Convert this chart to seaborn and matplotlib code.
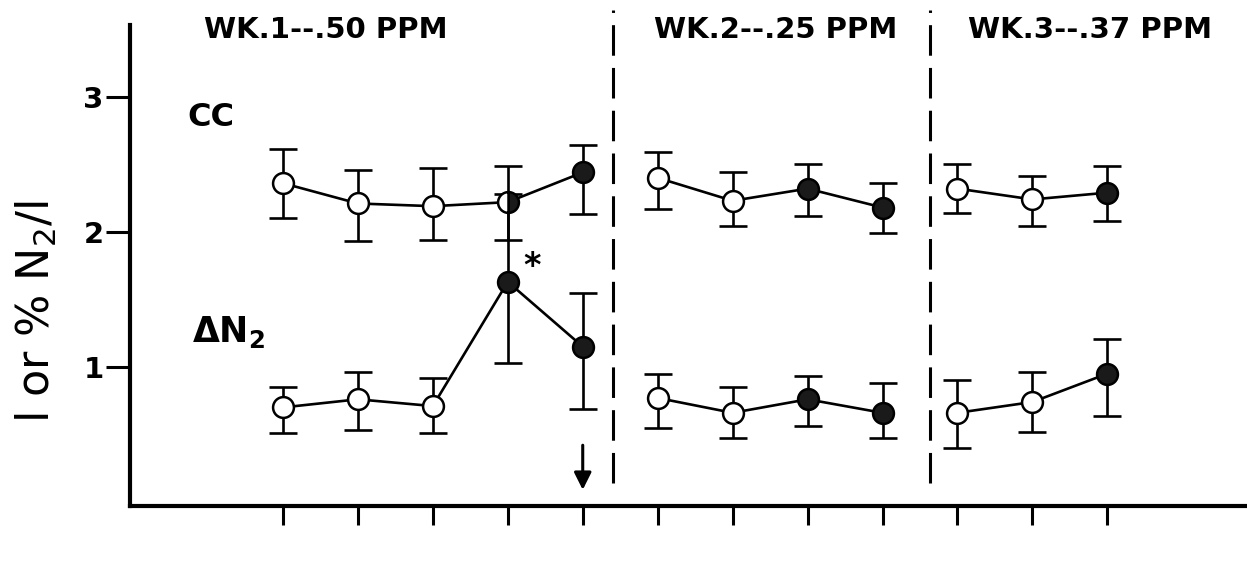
import numpy as np
import pandas as pd
import matplotlib
matplotlib.use("Agg")
import matplotlib.pyplot as plt
import seaborn as sns

# ---- data ----
x_pos = [1, 2, 3, 4, 5, 6, 7, 8, 9, 10, 11, 12]
week = [1, 1, 1, 1, 1, 2, 2, 2, 2, 3, 3, 3]
cc_mean = [2.36, 2.21, 2.19, 2.22, 2.44, 2.40, 2.23, 2.32, 2.18, 2.32, 2.24, 2.29]
cc_lo = [2.10, 1.93, 1.94, 1.94, 2.13, 2.17, 2.04, 2.12, 1.99, 2.14, 2.04, 2.08]
cc_hi = [2.61, 2.46, 2.47, 2.49, 2.64, 2.59, 2.44, 2.50, 2.36, 2.50, 2.41, 2.49]
dn_mean = [0.70, 0.76, 0.71, 1.63, 1.15, 0.77, 0.66, 0.76, 0.66, 0.66, 0.74, 0.95]
dn_lo = [0.51, 0.53, 0.51, 1.03, 0.69, 0.55, 0.47, 0.56, 0.47, 0.40, 0.52, 0.64]
dn_hi = [0.85, 0.96, 0.92, 2.28, 1.55, 0.95, 0.85, 0.93, 0.88, 0.90, 0.96, 1.21]
cc_fill = ["open", "open", "open", "half", "filled", "open", "open", "filled", "filled", "open", "open", "filled"]
dn_fill = ["open", "open", "open", "filled", "filled", "open", "open", "filled", "filled", "open", "open", "filled"]
week_titles = ["WK.1--.50 PPM", "WK.2--.25 PPM", "WK.3--.37 PPM"]
week_breaks = [5.4, 9.63]
y_ticks = [1, 2, 3]
series_labels = ["CC", r"ΔN$_\mathbf{2}$"]
y_label = r"l or % N$_2$/l"

# ---- figure ----
sns.set_style("ticks")
plt.rcParams["font.family"] = ["DejaVu Sans"]
plt.rcParams["mathtext.fontset"] = "dejavusans"
for k in ("text.color", "axes.labelcolor", "xtick.color", "ytick.color", "axes.edgecolor"):
    plt.rcParams[k] = "black"

fig = plt.figure(figsize=(12.47, 5.86), dpi=100)
ax = fig.add_axes([0.1043, 0.1365, 0.8937, 0.8205])

rows = []
for name, m in (("CC", cc_mean), ("DN", dn_mean)):
    for xi, wk, v in zip(x_pos, week, m):
        rows.append({"x": xi, "y": v, "unit": f"{name}-{wk}"})
df = pd.DataFrame(rows)
sns.lineplot(data=df, x="x", y="y", units="unit", estimator=None,
             color="black", lw=1.9, ax=ax, legend=False, zorder=2)

DARK = "#1a1a1a"
for m, lo, hi, fills in ((cc_mean, cc_lo, cc_hi, cc_fill), (dn_mean, dn_lo, dn_hi, dn_fill)):
    m = np.array(m); lo = np.array(lo); hi = np.array(hi)
    ax.errorbar(x_pos, m, yerr=[m - lo, hi - m], fmt="none", ecolor="black",
                elinewidth=1.9, capsize=10, capthick=1.9, zorder=3)
    for xi, v, f in zip(x_pos, m, fills):
        if f == "open":
            ax.plot(xi, v, "o", ms=15, mfc="white", mec="black", mew=1.8, zorder=4)
        elif f == "filled":
            ax.plot(xi, v, "o", ms=15, mfc=DARK, mec="black", mew=1.8, zorder=4)
        else:
            ax.plot(xi, v, "o", ms=15, fillstyle="right", mfc=DARK,
                    markerfacecoloralt="white", mec="black", mew=1.8, zorder=4)

# week separators
for xb in week_breaks:
    ax.plot([xb, xb], [0.14, 3.64], color="black", lw=2.2,
            dashes=(10, 4), clip_on=False, zorder=1)

ax.set_xlim(-1.04, 13.83)
ax.set_ylim(-0.03, 3.53)
ax.set_xticks(x_pos)
ax.set_xticklabels([])
ax.set_yticks(y_ticks)
ax.set_yticklabels([str(t) for t in y_ticks], fontsize=21, fontweight="bold")
ax.tick_params(axis="y", length=17, width=2.2, pad=2, direction="out", colors="black")
ax.tick_params(axis="x", length=14, width=2.2, direction="out", colors="black")
for side in ("top", "right"):
    ax.spines[side].set_visible(False)
for side in ("left", "bottom"):
    ax.spines[side].set_linewidth(3)
    ax.spines[side].set_color("black")
ax.set_xlabel("")
ax.set_ylabel("")

# week titles
title_x = [326, 776, 1090]
for tx, t in zip(title_x, week_titles):
    fig.text(tx / 1247, 1 - 30 / 586, t, ha="center", va="center",
             fontsize=21, fontweight="bold", color="black")

# series labels
ax.text(-0.27, 2.78, series_labels[0], fontsize=23, fontweight="bold",
        ha="left", va="baseline", color="black")
ax.text(-0.21, 1.185, series_labels[1], fontsize=25, fontweight="bold",
        ha="left", va="baseline", color="black")

# asterisk and arrow
ax.text(4.33, 1.74, "*", fontsize=24, fontweight="bold", ha="center", va="center",
        color="black")
ax.annotate("", xy=(5, 0.09), xytext=(5, 0.42),
            arrowprops=dict(arrowstyle="-|>", lw=2.2, color="black",
                            mutation_scale=26, shrinkA=0, shrinkB=0))

# y label
fig.text(14 / 1247, 1 - 312 / 586, y_label, rotation=90, ha="left", va="center",
         fontsize=32, color="black")

fig.savefig("out.png", dpi=100)
